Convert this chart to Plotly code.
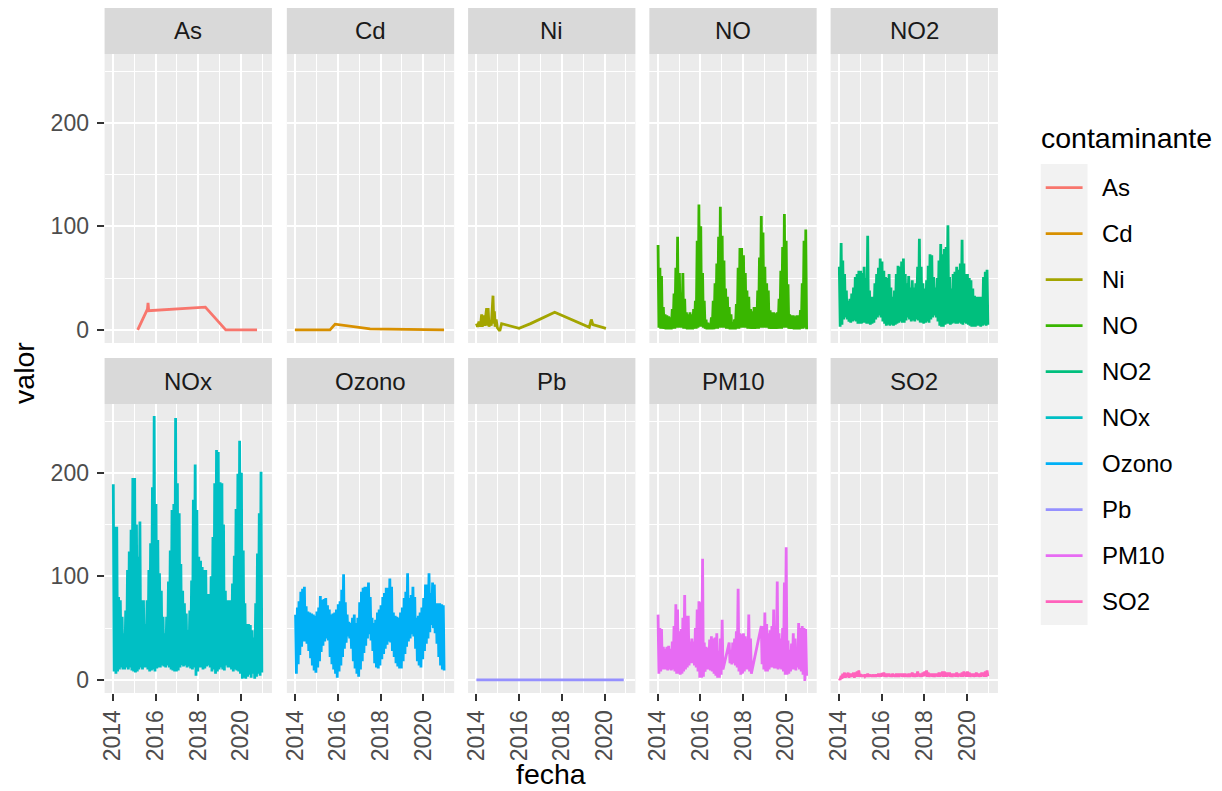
import pandas as pd
import plotly.graph_objects as go

# ---------------- data ----------------
contaminantes = ["As", "Cd", "Ni", "NO", "NO2", "NOx", "Ozono", "Pb", "PM10", "SO2"]
colores = ["#F8766D", "#D89000", "#A3A500", "#39B600", "#00BF7D",
           "#00BFC4", "#00B0F6", "#9590FF", "#E76BF3", "#FF62BC"]

# sparse series
as_fechas = ["2015-03-01", "2015-08-15", "2015-08-25", "2015-09-05", "2018-05-01", "2019-04-15", "2020-10-01"]
as_valor = [0, 20, 26, 18.5, 22, 0, 0]

cd_fechas = ["2013-12-28", "2015-08-20", "2015-11-15", "2017-07-05", "2020-12-20"]
cd_valor = [0, 0, 5.5, 1, 0]

ni_fechas = ["2014-01-01", "2014-01-20", "2014-02-14", "2014-03-10", "2014-04-01", "2014-04-12",
             "2014-05-01", "2014-05-20", "2014-06-25", "2014-07-05", "2014-07-20", "2014-08-05",
             "2014-08-25", "2014-09-12", "2014-10-12", "2014-10-25", "2014-11-05", "2014-11-17",
             "2014-12-05", "2014-12-25", "2015-02-05", "2015-03-08", "2016-01-01", "2016-07-15",
             "2017-09-01", "2019-04-15", "2019-05-20", "2019-06-15", "2020-01-25"]
ni_valor = [6, 3, 8, 3, 15, 3, 14, 4, 21, 4, 21, 3, 9, 4, 33, 6, 18, 3, 10, 2, -1, 6,
            1.5, 6, 17, 2.5, 10, 5, 1.5]

pb_fechas = ["2014-01-01", "2016-01-01", "2018-01-01", "2020-11-25"]
pb_valor = [0, 0, 0, 0]

# dense daily series summarised as monthly highs / lows, Jan 2014 .. Dec 2020
no_hi = [82, 60, 52, 22, 15, 14, 13, 12, 20, 35, 60, 90,
         55, 36, 55, 30, 17, 15, 17, 15, 20, 28, 86, 121,
         100, 55, 28, 10, 7, 6, 12, 28, 45, 64, 90, 119,
         91, 67, 40, 32, 22, 15, 6, 10, 25, 60, 79, 79,
         72, 55, 38, 32, 20, 18, 22, 22, 38, 70, 110, 94,
         61, 45, 38, 19, 17, 17, 16, 17, 30, 57, 80, 112,
         86, 44, 15, 14, 14, 13, 14, 14, 19, 45, 86, 97]
no_lo = [2, 1, 1, 1, 0.5, 0.5, 0.5, 0.5, 1, 1, 2, 2,
         2, 2, 1, 1, 0.5, 0.5, 0.5, 0.5, 1, 1, 2, 3,
         3, 2, 1, 0.5, 0.5, 0.5, 0.5, 0.5, 1, 1, 2, 2,
         2, 2, 1, 1, 0.5, 0.5, 0.5, 0.5, 1, 1, 2, 2,
         2, 2, 1, 1, 1, 1, 1, 1, 1, 2, 2, 2,
         2, 2, 1, 1, 1, 1, 1, 1, 1, 1, 2, 2,
         2, 1, 1, 1, 0.5, 0.5, 0.5, 0.5, 1, 1, 2, 0.5]

no2_hi = [61, 84, 67, 54, 38, 28, 30, 35, 41, 51, 54, 57,
          57, 55, 61, 50, 91, 38, 32, 32, 45, 54, 60, 69,
          66, 57, 51, 50, 54, 41, 32, 38, 54, 62, 61, 66,
          69, 54, 45, 52, 41, 48, 41, 45, 61, 88, 61, 45,
          40, 48, 62, 73, 72, 51, 41, 50, 67, 83, 73, 78,
          80, 101, 51, 40, 54, 56, 61, 58, 64, 87, 64, 54,
          54, 50, 48, 40, 33, 32, 32, 32, 32, 51, 56, 58]
no2_lo = [3, 5, 10, 12, 10, 8, 7, 8, 9, 8, 6, 6,
          6, 7, 7, 6, 6, 5, 6, 7, 10, 12, 14, 12,
          8, 6, 4, 5, 4, 5, 4, 5, 6, 7, 8, 7,
          7, 9, 12, 10, 8, 9, 8, 10, 9, 7, 7, 6,
          7, 8, 7, 10, 12, 14, 12, 8, 4, 3, 3, 5,
          6, 6, 5, 6, 7, 6, 6, 7, 6, 5, 7, 6,
          5, 4, 3, 3, 3, 4, 4, 3, 4, 5, 4, 5]

nox_hi = [189, 148, 148, 80, 77, 61, 45, 67, 106, 124, 145, 195,
          195, 150, 119, 153, 77, 77, 54, 77, 106, 132, 186, 255,
          170, 135, 103, 86, 61, 45, 61, 95, 125, 164, 170, 253,
          190, 161, 112, 86, 74, 64, 48, 67, 96, 174, 208, 164,
          119, 115, 109, 106, 106, 83, 83, 100, 138, 190, 222, 220,
          191, 190, 150, 86, 77, 77, 77, 93, 120, 165, 199, 231,
          200, 125, 74, 54, 54, 53, 48, 41, 74, 122, 161, 201]
nox_lo = [8, 6, 8, 10, 12, 10, 10, 12, 10, 12, 9, 8,
          7, 8, 10, 12, 10, 12, 12, 10, 8, 9, 10, 8,
          11, 12, 12, 14, 13, 12, 14, 12, 10, 9, 8, 8,
          9, 12, 14, 13, 14, 12, 13, 11, 10, 12, 4, 8,
          12, 12, 10, 11, 13, 14, 12, 8, 10, 6, 8, 10,
          12, 10, 9, 14, 12, 12, 10, 8, 10, 9, 8, 6,
          1, 2, 1, 3, 5, 2, 6, 1, 3, 6, 4, 7]

ozono_hi = [63, 70, 76, 85, 88, 90, 71, 66, 65, 64, 63, 62,
            66, 70, 81, 77, 78, 79, 72, 68, 63, 64, 65, 68,
            73, 76, 87, 102, 75, 63, 56, 55, 60, 63, 55, 60,
            75, 85, 89, 90, 90, 94, 80, 60, 55, 58, 65, 68,
            72, 80, 84, 89, 89, 98, 90, 65, 62, 61, 60, 65,
            70, 79, 85, 103, 79, 82, 90, 80, 60, 62, 65, 70,
            79, 92, 92, 103, 84, 94, 92, 74, 74, 74, 73, 72]
ozono_lo = [6, 15, 24, 32, 37, 37, 35, 28, 21, 14, 9, 7,
            12, 18, 27, 33, 37, 40, 38, 22, 15, 10, 6, 2,
            8, 14, 22, 30, 36, 42, 40, 30, 18, 11, 6, 3,
            10, 18, 26, 33, 40, 44, 38, 28, 16, 12, 11, 14,
            20, 25, 30, 34, 37, 36, 28, 22, 16, 13, 11, 11,
            18, 25, 32, 37, 40, 44, 42, 30, 18, 14, 12, 20,
            28, 35, 40, 46, 53, 50, 45, 35, 22, 14, 10, 9]

pm10_hi = [63, 50, 49, 32, 30, 32, 33, 30, 37, 52, 73, 68,
           47, 49, 60, 82, 62, 62, 37, 40, 37, 50, 68, 76,
           75, 117, 36, 32, 31, 39, 42, 40, 41, 45, 28, 40,
           58, None, None, None, 36, 29, 36, 40, 47, 88, 45, 44,
           45, 42, 40, 63, 40, None, None, None, None, None, 52, 52,
           65, 54, 45, 48, 52, 68, 50, 95, 45, 40, 50, 94,
           128, 38, 29, 35, 45, 40, 26, 55, 50, 52, 50, 49]
pm10_lo = [6, 8, 10, 10, 10, 9, 10, 9, 10, 8, 6, 6,
           5, 6, 8, 10, 12, 14, 16, 16, 14, 12, 8, 2,
           2, 3, 8, 10, 10, 9, 8, 6, 4, 2, 2, 5,
           10, None, None, None, 16, 15, 16, 14, 12, 8, 5, 6,
           8, 10, 10, 8, 6, None, None, None, None, None, 15, 10,
           8, 8, 10, 12, 12, 11, 11, 10, 11, 10, 8, 5,
           5, 6, 8, 10, 10, 9, 12, 10, 8, 5, -1, 4]

so2_hi = [1.5, 4, 6, 7, 6, 7, 6, 6, 7, 7, 8, 9,
          5.5, 5, 5, 5, 6, 5, 5, 5, 5, 5, 6, 6,
          6.5, 7, 6, 6, 6, 5, 6, 5, 6, 6, 6, 6,
          6, 6, 5, 6, 6, 7, 6, 6, 8, 6, 6, 7,
          8, 9, 7, 6, 6, 6, 6, 6, 7, 7, 8, 8,
          7, 7, 7, 6, 6, 6, 7, 6, 6, 7, 8, 7,
          8, 7, 6, 6, 6, 7, 6, 6, 7, 7, 8, 9]
so2_lo = [0, 1, 2, 2, 3, 2, 3, 3, 2, 3, 3, 3,
          3, 3, 3.5, 3, 3, 3.5, 3, 3, 3, 3.5, 3, 3,
          3.5, 3, 3, 3.5, 3, 3, 3.5, 3, 3, 3, 3.5, 3,
          3, 3.5, 3, 3, 3.5, 3, 3, 3, 3.5, 3, 3, 3.5,
          3.5, 3, 3, 3.5, 3, 3, 3.5, 3, 3, 3.5, 3, 3,
          3, 3.5, 3, 3, 3.5, 3, 3, 3.5, 3, 3, 3.5, 3,
          3, 3, 3.5, 3, 3, 3.5, 3, 3, 3.5, 3, 3, 3.5]

meses = pd.date_range("2014-01-01", periods=84, freq="MS")


def zigzag(hi, lo):
    xs, ys = [], []
    for m, h, l in zip(meses, hi, lo):
        if h is not None:
            xs.append(m + pd.Timedelta(days=7))
            ys.append(h)
        if l is not None:
            xs.append(m + pd.Timedelta(days=21))
            ys.append(l)
    return xs, ys


series = {
    "As": (pd.to_datetime(as_fechas), as_valor),
    "Cd": (pd.to_datetime(cd_fechas), cd_valor),
    "Ni": (pd.to_datetime(ni_fechas), ni_valor),
    "NO": zigzag(no_hi, no_lo),
    "NO2": zigzag(no2_hi, no2_lo),
    "NOx": zigzag(nox_hi, nox_lo),
    "Ozono": zigzag(ozono_hi, ozono_lo),
    "Pb": (pd.to_datetime(pb_fechas), pb_valor),
    "PM10": zigzag(pm10_hi, pm10_lo),
    "SO2": zigzag(so2_hi, so2_lo),
}

# ---------------- layout geometry (pixels) ----------------
W, H = 1222, 791
FONT = "Liberation Sans"
SMALL = 24
TICK = 23
BIG = 28.5
LW = 2.8


def px(x):
    return x / W


def py(y):
    return 1 - y / H


col_left = [100, 283, 465, 647, 829]
col_w = 168
rows = [(54, 343), (404, 693)]
strips = [(8, 54), (358, 404)]

x_range = ["2013-08-12", "2021-06-12"]
y_range = [-12.7, 266.5]

fig = go.Figure()
shapes = []
annotations = []
layout_axes = {}

for i, name in enumerate(contaminantes):
    r, c = divmod(i, 5)
    k = "" if i == 0 else str(i + 1)
    xs, ys = series[name]
    fig.add_trace(go.Scatter(
        x=xs, y=ys, mode="lines", name=name,
        line=dict(color=colores[i], width=LW, simplify=False),
        xaxis="x" + k, yaxis="y" + k, showlegend=False, hoverinfo="skip"))

    x0, x1 = col_left[c], col_left[c] + col_w
    top, bot = rows[r]
    show_x = r == 1
    show_y = c == 0
    layout_axes["xaxis" + k] = dict(
        domain=[px(x0), px(x1)], anchor="y" + k, type="date", range=x_range,
        tick0="2014-01-01", dtick="M24", tickformat="%Y",
        showgrid=True, gridcolor="white", gridwidth=2.2,
        minor=dict(showgrid=True, gridcolor="white", gridwidth=1.1,
                   tick0="2015-01-01", dtick="M24"),
        zeroline=False, showline=False,
        showticklabels=show_x, ticks="outside" if show_x else "",
        ticklen=7, tickwidth=2, tickcolor="#333333", tickangle=-90,
        tickfont=dict(family=FONT, size=TICK, color="#4D4D4D"),
    )
    layout_axes["yaxis" + k] = dict(
        domain=[py(bot), py(top)], anchor="x" + k, range=y_range,
        tick0=0, dtick=100,
        showgrid=True, gridcolor="white", gridwidth=2.2,
        minor=dict(showgrid=True, gridcolor="white", gridwidth=1.1, tick0=50, dtick=100),
        zeroline=False, showline=False,
        showticklabels=show_y, ticks="outside" if show_y else "",
        ticklen=7, tickwidth=2, tickcolor="#333333", ticklabelstandoff=3,
        tickfont=dict(family=FONT, size=TICK, color="#4D4D4D"),
    )
    # strip
    s0, s1 = strips[r]
    shapes.append(dict(type="rect", xref="paper", yref="paper",
                       x0=px(x0), x1=px(x1), y0=py(s1), y1=py(s0),
                       fillcolor="#D9D9D9", line=dict(width=0), layer="below"))
    annotations.append(dict(xref="paper", yref="paper", x=px((x0 + x1) / 2),
                            y=py((s0 + s1) / 2), text=name, showarrow=False,
                            xanchor="center", yanchor="middle",
                            font=dict(family=FONT, size=SMALL, color="#1A1A1A")))

# axis titles
annotations.append(dict(xref="paper", yref="paper", x=px(548), y=0, text="fecha",
                        showarrow=False, xanchor="center", yanchor="bottom", borderpad=0,
                        font=dict(family=FONT, size=BIG, color="black")))
annotations.append(dict(xref="paper", yref="paper", x=px(19), y=py(373), text="valor",
                        showarrow=False, xanchor="center", yanchor="middle", textangle=-90,
                        font=dict(family=FONT, size=BIG, color="black")))

# legend (drawn manually in ggplot style)
annotations.append(dict(xref="paper", yref="paper", x=px(1038), y=py(138),
                        text="contaminante", showarrow=False, xanchor="left", yanchor="middle",
                        font=dict(family=FONT, size=BIG, color="black")))
shapes.append(dict(type="rect", xref="paper", yref="paper",
                   x0=px(1040), x1=px(1087), y0=py(625), y1=py(164),
                   fillcolor="#F2F2F2", line=dict(width=0), layer="below"))
for i, name in enumerate(contaminantes):
    yy = 187.7 + 46 * i
    shapes.append(dict(type="line", xref="paper", yref="paper",
                       x0=px(1045), x1=px(1082), y0=py(yy), y1=py(yy),
                       line=dict(color=colores[i], width=LW)))
    annotations.append(dict(xref="paper", yref="paper", x=px(1100), y=py(yy), text=name,
                            showarrow=False, xanchor="left", yanchor="middle",
                            font=dict(family=FONT, size=SMALL, color="black")))

fig.update_layout(
    width=W, height=H, margin=dict(l=0, r=0, t=0, b=0),
    paper_bgcolor="white", plot_bgcolor="#EBEBEB",
    showlegend=False, shapes=shapes, annotations=annotations,
    font=dict(family=FONT),
    **layout_axes,
)

fig.write_html("out.html")
